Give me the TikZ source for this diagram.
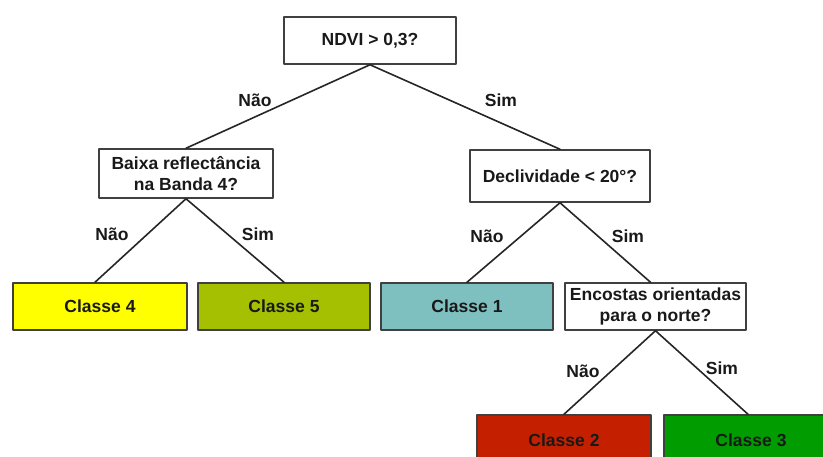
\documentclass[tikz,border=0pt]{standalone}
\usepackage{fontspec}
\setmainfont{Liberation Sans}
\begin{document}
\begin{tikzpicture}[x=1pt, y=-1pt, line cap=round, line join=round,
  box/.style={draw=black!75, line width=1.5pt, align=center, inner sep=1pt,
    font=\fontsize{17.5}{21.5}\selectfont\bfseries, text=black!90},
  lbl/.style={font=\fontsize{17.5}{20}\selectfont\bfseries, text=black!90},
  link/.style={draw=black!85, line width=1.6pt}]
  \definecolor{cyellow}{RGB}{255,255,0}
  \definecolor{colive}{RGB}{164,192,0}
  \definecolor{cteal}{RGB}{126,192,192}
  \definecolor{cred}{RGB}{196,32,0}
  \definecolor{cgreen}{RGB}{0,156,0}
  \useasboundingbox (0,0) rectangle (823,457);
  \node[box, minimum width=172pt, minimum height=47pt] (ndvi) at (370,40.5) {NDVI > 0,3?};
  \node[box, minimum width=174pt, minimum height=49pt] (banda) at (186,173.5) {Baixa reflectância\\na Banda 4?};
  \node[box, minimum width=180pt, minimum height=52pt] (decl) at (560,176) {Declividade < 20°?};
  \node[box, fill=cyellow, minimum width=174pt, minimum height=47pt] (c4) at (100,306.5) {Classe 4};
  \node[box, fill=colive, minimum width=172pt, minimum height=47pt] (c5) at (284,306.5) {Classe 5};
  \node[box, fill=cteal, minimum width=172pt, minimum height=47pt] (c1) at (467,306.5) {Classe 1};
  \node[box, minimum width=181pt, minimum height=47pt] (enc) at (655.5,306.5) {Encostas orientadas\\para o norte?};
  \node[box, fill=cred, minimum width=174pt, minimum height=50pt] (c2) at (564,440) {Classe 2};
  \node[box, fill=cgreen, minimum width=174pt, minimum height=50pt] (c3) at (751,440) {Classe 3};
  \draw[link] (ndvi.south) -- (banda.north);
  \draw[link] (ndvi.south) -- (decl.north);
  \draw[link] (banda.south) -- ([xshift=-5pt]c4.north);
  \draw[link] (banda.south) -- (c5.north);
  \draw[link] (decl.south) -- (c1.north);
  \draw[link] (decl.south) -- ([xshift=-5pt]enc.north);
  \draw[link] (enc.south) -- (c2.north);
  \draw[link] (enc.south) -- ([xshift=-3pt]c3.north);
  \node[lbl] (n1) at (255,100) {Não};
  \node[lbl] (s1) at (501,100) {Sim};
  \node[lbl] (n2) at (112,234) {Não};
  \node[lbl] (s2) at (258,234) {Sim};
  \node[lbl] (n3) at (487,236) {Não};
  \node[lbl] (s3) at (628,236) {Sim};
  \node[lbl] (n4) at (583,371) {Não};
  \node[lbl] (s4) at (722,368) {Sim};
\end{tikzpicture}
\end{document}
